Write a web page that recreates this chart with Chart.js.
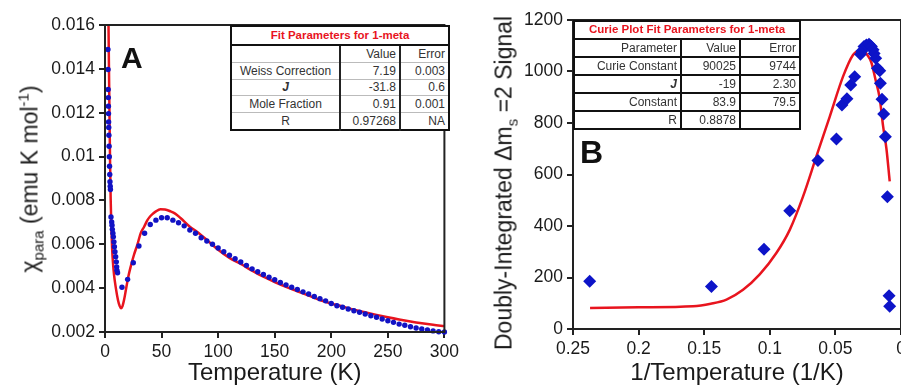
<!DOCTYPE html>
<html>
<head>
<meta charset="utf-8">
<script src="https://cdn.jsdelivr.net/npm/chart.js@4"></script>
<style>
body{margin:0;width:901px;height:385px;overflow:hidden;background:#fff;position:relative;font-family:"Liberation Sans",Arial,sans-serif;color:#1a1a1a}
.wrap{position:absolute;top:0;height:385px}
#wrapA{left:0;width:463px}
#wrapB{left:450px;width:470px}
.ytitle{position:absolute;white-space:nowrap;font-size:23px;line-height:1;transform:translate(-50%,-50%) rotate(-90deg)}
.ytitle sub,.ytitle sup{font-size:15px;line-height:0}
.letter{position:absolute;font-weight:bold;line-height:1;color:#111}
table.fit{position:absolute;border-collapse:collapse;background:#fff;font-size:12px;color:#333;table-layout:fixed}
table.fit td{padding:0 3px;line-height:1;white-space:nowrap;overflow:hidden}
table.fit .ttl{color:#e8141e;font-weight:bold;font-size:11.5px;text-align:center}
.ji{font-style:italic;font-weight:bold}
#tabA{left:230px;top:25px;width:218px;height:106px;border:2px solid #111}
#tabA .ttl{border-bottom:2px solid #111;height:16px}
#tabA td{border-top:1px solid #bbb;height:15px}
#tabA td+td{border-left:2px solid #222;text-align:right}
#tabA td:first-child{text-align:center}
#tabB{left:573px;top:20px;width:226px;height:110px;border:2px solid #111}
#tabB td{border:2px solid #111;text-align:right;height:15px}
#tabB .ttl{text-align:center}
</style>
</head>
<body>
<div class="wrap" id="wrapA"><canvas id="chartA"></canvas></div>
<div class="wrap" id="wrapB"><canvas id="chartB"></canvas></div>
<div class="ytitle" style="left:30px;top:179px">&chi;<sub>para</sub> (emu K mol<sup>-1</sup>)</div>
<div class="ytitle" style="left:504px;top:183px">Doubly-Integrated &Delta;m<sub>s</sub> =2 Signal</div>
<div class="letter" style="left:121px;top:43px;font-size:30px">A</div>
<div class="letter" style="left:580px;top:136px;font-size:32px">B</div>
<table class="fit" id="tabA"></table>
<table class="fit" id="tabB"></table>
<script>
// ---------- Panel A: chi vs T ----------
const tempA = [2.6,2.7,2.8,2.9,3.0,3.1,3.2,3.3,3.45,3.6,3.8,4.0,4.2,4.4,4.6,4.8,
  5.3,5.9,6.2,6.5,7.0,7.4,7.9,8.3,8.8,9.4,10.0,10.3,10.5,11.1,
  15,20,25,30,35,40,45,50,55,60,65,70,75,80,85,90,95,100,105,110,115,120,125,130,135,140,145,150,
  155,160,165,170,175,180,185,190,195,200,205,210,215,220,225,230,235,240,245,250,255,260,265,270,
  275,280,285,290,295,300];
const chiA = [0.01488,0.01397,0.01306,0.01269,0.0123,0.01196,0.01158,0.01133,0.01097,0.01047,0.00999,0.00956,0.00918,0.00885,0.00865,0.0085,
  0.00725,0.00702,0.00687,0.00668,0.0065,0.00634,0.00611,0.00589,0.00566,0.00543,0.0052,0.00497,0.00482,0.0047,
  0.00404,0.0044,0.00516,0.00592,0.0065,0.0069,0.0071,0.00721,0.00721,0.0071,0.00698,0.00684,0.00665,0.0065,0.0063,0.00615,0.006,0.00583,
  0.00566,0.0055,0.00534,0.00519,0.00504,0.00488,0.00475,0.00462,0.0045,0.00438,0.00426,0.00415,0.00404,0.00394,0.00383,0.00373,
  0.00362,0.00352,0.00342,0.0033,0.0032,0.00313,0.00305,0.00297,0.0029,0.00282,0.00274,0.00267,0.00259,0.00251,0.00244,0.00236,
  0.00231,0.00224,0.00218,0.00214,0.00209,0.00205,0.00201,0.002];
const fitTempA = [3.0,3.5,4.0,4.5,5.0,5.6,6.3,7.0,8.0,9.6,11.5,13,14.2,15.5,17,18.4,20.5,22.8,25.5,28.7,31.5,34.6,37.5,40.4,45,49,53,58,62,66.7,75,81.3,90,
  100,110,120,130,140,150,160,170,180,190,200,210,220,230,240,250,260,270,280,290,300];
const fitChiA = [0.0165,0.014,0.0118,0.0097,0.0081,0.0068,0.0058,0.0052,0.0046,0.004,0.00345,0.00318,0.00308,0.00318,0.0035,0.0039,0.0045,0.005,0.0055,0.006,0.0065,0.0068,0.0071,0.0073,0.0075,0.0076,0.00759,0.0075,0.0074,0.0072,0.0068,0.00657,0.0062,
  0.00575,0.00538,0.0051,0.0048,0.00452,0.00428,0.00406,0.00386,0.00366,0.00346,0.0033,0.00316,0.00302,0.0029,0.00278,0.00267,0.00257,0.00248,0.0024,0.00233,0.00227];
const xTickLabelsA = ['0','50','100','150','200','250','300'];
const yTickLabelsA = ['0.002','0.004','0.006','0.008','0.01','0.012','0.014','0.016'];
const tableA = [
  ['', 'Value', 'Error'],
  ['Weiss Correction', '7.19', '0.003'],
  ['J', '-31.8', '0.6'],
  ['Mole Fraction', '0.91', '0.001'],
  ['R', '0.97268', 'NA']
];

// ---------- Panel B: Curie plot ----------
const invTempB = [0.2373,0.1445,0.1044,0.0848,0.0633,0.0492,0.045,0.0412,0.0383,0.0353,0.0309,0.0298,0.0282,0.0264,0.0244,0.0235,0.0226,0.0213,0.0205,0.0193,0.018,0.0162,0.0157,0.0145,0.0132,0.0119,0.0104,0.0091,0.0086];
const signalB = [185,165,310,459,654,738,870,894,948,980,1067,1080,1097,1103,1106,1100,1097,1084,1070,1051,1013,1003,954,892,835,747,514,129,88];
const fitInvTempB = [0.237,0.2,0.1585,0.145,0.133,0.1204,0.1077,0.095,0.0848,0.0747,0.0645,0.0543,0.0442,0.0366,0.0315,0.029,0.0258,0.0226,0.0195,0.0162,0.0137,0.0111,0.0086];
const fitSignalB = [82,84,88,98,114,152,212,295,385,514,670,825,980,1064,1082,1083,1065,1035,970,895,790,700,573];
// reversed axis: labels listed left to right
const xTickLabelsB = ['0.25','0.2','0.15','0.1','0.05','0'];
const yTickLabelsB = ['0','200','400','600','800','1000','1200'];
const tableB = [
  ['Parameter', 'Value', 'Error'],
  ['Curie Constant', '90025', '9744'],
  ['J', '-19', '2.30'],
  ['Constant', '83.9', '79.5'],
  ['R', '0.8878', '']
];

function buildTable(id, title, rows, widths){
  const t = document.getElementById(id);
  let html = '<colgroup>' + widths.map(w=>`<col style="width:${w}px">`).join('') + '</colgroup>';
  html += `<tr><td colspan="3" class="ttl">${title}</td></tr>`;
  rows.forEach(r=>{
    html += '<tr>' + r.map(c=> c==='J' ? '<td><span class="ji">J</span></td>' : `<td>${c}</td>`).join('') + '</tr>';
  });
  t.innerHTML = html;
}
buildTable('tabA', 'Fit Parameters for 1-meta', tableA, [109,60,49]);
buildTable('tabB', 'Curie Plot Fit Parameters for 1-meta', tableB, [107,59,60]);

Chart.defaults.font.family = "'Liberation Sans', Arial, sans-serif";
Chart.defaults.color = '#1a1a1a';
Chart.defaults.animation = false;

const frame = {id:'frame', afterDatasetsDraw(c){
  const {ctx, chartArea:a} = c;
  ctx.save(); ctx.strokeStyle='#222'; ctx.lineWidth=2;
  ctx.strokeRect(a.left, a.top, a.right-a.left, a.bottom-a.top);
  ctx.restore();
}};

const tickFont = {size:17.5};
const axisGrid = {drawOnChartArea:false, tickLength:6, color:'#222', lineWidth:2};
const axisBorder = {color:'#222', width:2};

function pairs(xs, ys){ return xs.map((x,i)=>({x:x, y:ys[i]})); }

new Chart(document.getElementById('chartA'), {
  type:'scatter',
  data:{datasets:[
    {data:pairs(tempA, chiA), pointRadius:2.7, pointBackgroundColor:'#1212c4', pointBorderWidth:0, clip:4},
    {data:pairs(fitTempA, fitChiA), showLine:true, borderColor:'#e8141e', borderWidth:2.5, pointRadius:0, cubicInterpolationMode:'monotone'}
  ]},
  options:{
    responsive:true, maintainAspectRatio:false,
    layout:{padding:{top:25, right:15, bottom:0, left:0}, autoPadding:false},
    plugins:{legend:{display:false}, tooltip:{enabled:false}},
    scales:{
      x:{type:'linear', min:0, max:300,
        ticks:{stepSize:50, font:tickFont, padding:4, maxRotation:0, callback:(v,i)=>xTickLabelsA[i]},
        grid:axisGrid, border:axisBorder,
        title:{display:true, text:'Temperature (K)', font:{size:24, lineHeight:1}, padding:0},
        afterFit(s){ s.height = 53; }},
      y:{min:0.002, max:0.016,
        ticks:{stepSize:0.002, font:tickFont, padding:4, callback:(v,i)=>yTickLabelsA[i]},
        grid:axisGrid, border:axisBorder,
        afterFit(s){ s.width = 105; }}
    }
  },
  plugins:[frame]
});

new Chart(document.getElementById('chartB'), {
  type:'scatter',
  data:{datasets:[
    {data:pairs(invTempB, signalB), pointStyle:'rectRot', pointRadius:6.5, pointBackgroundColor:'#0d14c8', pointBorderWidth:0, clip:8},
    {data:pairs(fitInvTempB, fitSignalB), showLine:true, borderColor:'#e8141e', borderWidth:2.5, pointRadius:0, cubicInterpolationMode:'monotone'}
  ]},
  options:{
    responsive:true, maintainAspectRatio:false,
    layout:{padding:{top:20, right:19, bottom:0, left:0}, autoPadding:false},
    plugins:{legend:{display:false}, tooltip:{enabled:false}},
    scales:{
      x:{type:'linear', min:0, max:0.25, reverse:true,
        ticks:{stepSize:0.05, font:tickFont, padding:4, maxRotation:0, callback:(v,i)=>xTickLabelsB[i]},
        grid:axisGrid, border:axisBorder,
        title:{display:true, text:'1/Temperature (1/K)', font:{size:24, lineHeight:1}, padding:0},
        afterFit(s){ s.height = 56; }},
      y:{min:0, max:1200,
        ticks:{stepSize:200, font:tickFont, padding:4, callback:(v,i)=>yTickLabelsB[i]},
        grid:axisGrid, border:axisBorder,
        afterFit(s){ s.width = 123; }}
    }
  },
  plugins:[frame]
});
</script>
</body>
</html>
